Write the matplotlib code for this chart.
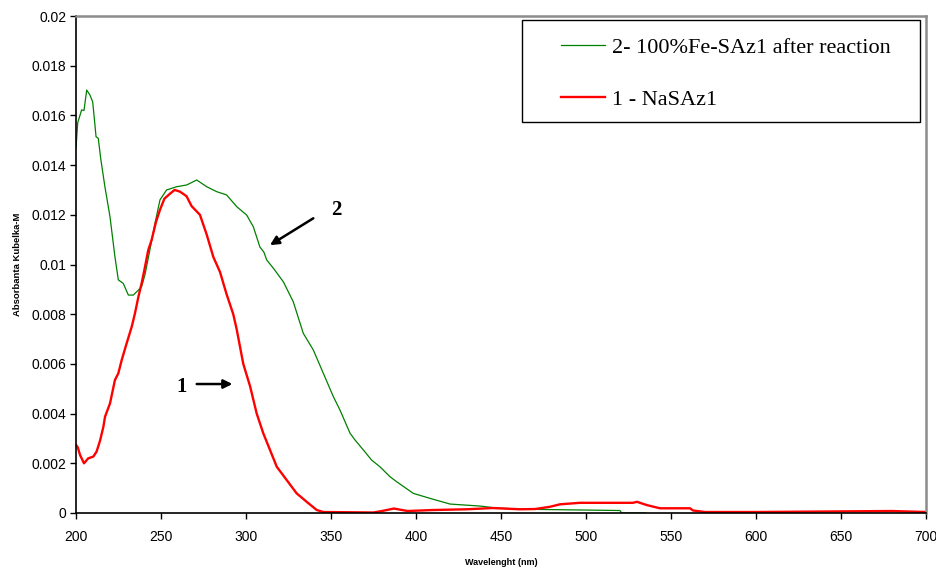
import matplotlib
matplotlib.use("Agg")
import matplotlib.pyplot as plt
from matplotlib.ticker import FuncFormatter, MultipleLocator
from matplotlib.patches import Rectangle

# ---- data ----
red_wl = [200, 201, 202.4, 204.7, 207.2, 210.2, 212.1, 214.1, 216.1, 217.1, 220, 222.9,
          224.9, 226.9, 229.8, 232.8, 234.7, 236.7, 238.6, 240.6, 242.5, 244.5, 247,
          249.4, 252, 255.3, 258, 261.2, 265, 268, 272.9, 276.9, 280.8, 284.7, 288.6,
          292.5, 294.5, 298.4, 302.4, 306.3, 310.2, 314.1, 318.1, 323.9, 329.8, 335.7,
          341.6, 345.5, 360, 375, 380, 387, 395, 410, 430, 445, 461, 470, 478.8, 484.7,
          496.5, 527.6, 530, 535.7, 543.5, 561.2, 563, 570, 600, 640, 680, 700]
red_abs = [0.00274, 0.00265, 0.00233, 0.00200, 0.00220, 0.00227, 0.00247, 0.00290,
           0.00347, 0.00388, 0.00441, 0.00535, 0.00562, 0.00616, 0.00683, 0.00750,
           0.00804, 0.00870, 0.00924, 0.00991, 0.01058, 0.01099, 0.01170, 0.01220,
           0.01265, 0.01285, 0.01300, 0.01293, 0.01275, 0.01235, 0.01200, 0.01120,
           0.01030, 0.00970, 0.00880, 0.00800, 0.00740, 0.00600, 0.00510, 0.00400,
           0.00320, 0.00254, 0.00186, 0.00133, 0.00079, 0.00045, 0.00012, 0.00004,
           0.00003, 0.00002, 0.00008, 0.00018, 0.00008, 0.00012, 0.00015, 0.00020,
           0.00015, 0.00016, 0.00025, 0.00035, 0.00041, 0.00041, 0.00045, 0.00032,
           0.00019, 0.00019, 0.00010, 0.00004, 0.00004, 0.00006, 0.00008, 0.00004]

green_wl = [200, 201, 203.3, 204.7, 206.3, 208.2, 209.8, 210.6, 211.8, 213.1, 214.5, 217,
            220, 222.9, 224.9, 227.8, 230.8, 233.7, 236.7, 238.6, 240.6, 243.5, 246.5,
            249.4, 253.3, 259.2, 265.1, 271, 276.9, 282.8, 288.6, 294.5, 300.4, 304.3,
            308.2, 310.5, 312.2, 316.1, 322, 327.8, 333.7, 339.6, 345.5, 351.4, 355.3,
            361.2, 364.1, 369, 373.9, 378.8, 384.7, 388.6, 398.4, 408.2, 420, 437.6,
            447.5, 465, 520, 521, 535]
green_abs = [0.01470, 0.01570, 0.01622, 0.01620, 0.01702, 0.01682, 0.01655, 0.01600,
             0.01514, 0.01508, 0.01428, 0.01313, 0.01192, 0.01031, 0.00938, 0.00924,
             0.00877, 0.00877, 0.00897, 0.00911, 0.00960, 0.01060, 0.01167, 0.01260,
             0.01300, 0.01313, 0.01320, 0.01340, 0.01313, 0.01293, 0.01280, 0.01233,
             0.01199, 0.01152, 0.01070, 0.01050, 0.01018, 0.00985, 0.00930, 0.00850,
             0.00723, 0.00656, 0.00562, 0.00468, 0.00414, 0.00321, 0.00294, 0.00254,
             0.00213, 0.00186, 0.00146, 0.00126, 0.00079, 0.00059, 0.00036, 0.00028,
             0.00020, 0.00015, 0.00010, 0.0, 0.0]

x_ticks = [200, 250, 300, 350, 400, 450, 500, 550, 600, 650, 700]
label_green = "2- 100%Fe-SAz1 after reaction"
label_red = "1 - NaSAz1"

# ---- figure ----
W, H = 936, 567
fig = plt.figure(figsize=(W / 100, H / 100), dpi=100)
ax = fig.add_axes([76 / W, 1 - 513 / H, 850 / W, 497 / H])

lg, = ax.plot(green_wl, green_abs, color="#008000", lw=0.9, label=label_green)
lr, = ax.plot(red_wl, red_abs, color="#ff0000", lw=1.7, label=label_red)

ax.set_xlim(200, 700)
ax.set_ylim(0, 0.02)
ax.set_xticks(x_ticks)
ax.yaxis.set_major_locator(MultipleLocator(0.002))
ax.yaxis.set_major_formatter(FuncFormatter(lambda v, p: "%g" % round(v, 4)))

for lab in ax.get_xticklabels() + ax.get_yticklabels():
    lab.set_family("Liberation Sans")
    lab.set_fontsize(10)
ax.tick_params(direction="out", length=4, width=1, color="black")
ax.tick_params(axis="x", pad=8)
ax.tick_params(axis="y", pad=3)

ax.spines["left"].set_color("black")
ax.spines["bottom"].set_color("black")
ax.spines["left"].set_linewidth(1.2)
ax.spines["bottom"].set_linewidth(1.2)
for s in ("top", "right"):
    ax.spines[s].set_color("#8c8c8c")
    ax.spines[s].set_linewidth(1.8)

ax.set_xlabel("Wavelenght (nm)", family="Liberation Sans", fontsize=6.5, weight="bold")
ax.set_ylabel("Absorbanta Kubelka-M", family="Liberation Sans", fontsize=6.8, weight="bold")
ax.xaxis.set_label_coords(0.5, -0.09)
ax.yaxis.set_label_coords(-0.064, 0.5)

# arrows and numbers
ax.annotate("", xy=(314.1, 0.01078), xytext=(339.6, 0.01186),
            arrowprops=dict(arrowstyle="-|>", lw=1.8, color="black", mutation_scale=13,
                            shrinkA=0, shrinkB=0))
ax.text(353.4, 0.01219, "2", family="Liberation Serif", weight="bold", fontsize=15,
        ha="center", va="center")
ax.annotate("", xy=(292.0, 0.00519), xytext=(271.0, 0.00519),
            arrowprops=dict(arrowstyle="-|>", lw=1.8, color="black", mutation_scale=13,
                            shrinkA=0, shrinkB=0))
ax.text(262.2, 0.00508, "1", family="Liberation Serif", weight="bold", fontsize=15,
        ha="center", va="center")

# legend (frame drawn as a rectangle)
fig.patches.append(Rectangle((522 / W, 1 - 122 / H), 398 / W, 102 / H,
                             transform=fig.transFigure, fill=True, facecolor="white",
                             edgecolor="black", lw=1.0, zorder=5))
leg = fig.legend(handles=[lg, lr], loc="upper left",
                 bbox_to_anchor=(556.5 / W, 1 - 33 / H), frameon=False,
                 prop={"family": "Liberation Serif", "size": 16},
                 handlelength=2.0, handletextpad=0.3, labelspacing=1.41,
                 borderpad=0.2, borderaxespad=0)
leg.set_zorder(6)

fig.savefig("out.png", dpi=100)
